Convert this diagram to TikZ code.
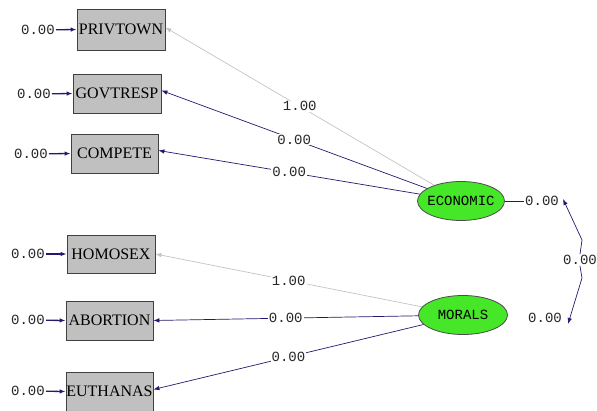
\documentclass[tikz,border=0pt]{standalone}
\usepackage{fontspec}
\setmainfont{Liberation Serif}
\setmonofont{Liberation Mono}
\usetikzlibrary{shapes.geometric,arrows.meta}
\definecolor{navyline}{RGB}{35,25,110}
\definecolor{grayline}{RGB}{195,195,195}
\definecolor{boxgray}{RGB}{192,192,192}
\definecolor{latgreen}{RGB}{70,230,40}
\begin{document}
\begin{tikzpicture}[x=1pt,y=-1pt,
  obs/.style={draw=black!75, line width=0.8pt, fill=boxgray, minimum width=88pt, minimum height=39pt, inner sep=0pt, font=\fontsize{16}{16}\selectfont},
  lat/.style={ellipse, draw=black!70, line width=0.8pt, fill=latgreen, minimum width=88pt, minimum height=39pt, inner ysep=0pt, inner xsep=-3pt, font=\ttfamily\fontsize{14}{14}\selectfont},
  num/.style={font=\ttfamily\fontsize{14}{14}\selectfont, inner sep=1pt, text=black!85},
  lab/.style={num, fill=white},
  tipa/.style={-{Latex[length=6pt,width=4.5pt]}},
  nav/.style={navyline, line width=0.7pt, tipa},
  gry/.style={grayline, line width=0.7pt, tipa},
  err/.style={navyline, line width=1.3pt, tipa}]
\useasboundingbox (0,0) rectangle (597,411);

% observed variables
\node[obs, minimum height=41pt] (priv) at (121,29.5) {PRIVTOWN};
\node[obs] (gov) at (117,93.5) {GOVTRESP};
\node[obs, minimum width=87pt] (comp) at (114.5,153.5) {COMPETE};
\node[obs, minimum height=38pt] (homo) at (111,254) {HOMOSEX};
\node[obs, minimum width=87pt] (abor) at (109.5,320.5) {ABORTION};
\node[obs, minimum width=87pt] (euth) at (109.5,391.5) {EUTHANAS};

% error variances
\node[num, anchor=east] (e1) at (56,30) {0.00};
\node[num, anchor=east] (e2) at (52,94) {0.00};
\node[num, anchor=east] (e3) at (49,154) {0.00};
\node[num, anchor=east] (e4) at (46,254) {0.00};
\node[num, anchor=east] (e5) at (46,320) {0.00};
\node[num, anchor=east] (e6) at (46,391) {0.00};
\draw[err] (e1) -- (priv.west);
\draw[err] (e2) -- (gov.west);
\draw[err] (e3) -- (comp.west);
\draw[err] (e4) -- (homo.west);
\draw[err] (e5) -- (abor.west);
\draw[err] (e6) -- (euth.west);

% latent variables
\node[lat, minimum width=87pt] (eco) at (461,201) {ECONOMIC};
\node[lat, minimum width=89pt] (mor) at (463,315) {MORALS};

% loadings
\draw[gry] (eco) -- node[lab, pos=0.5] {1.00} ([yshift=2pt]priv.east);
\draw[nav] (eco) -- node[lab, pos=0.5] {0.00} ([yshift=3pt]gov.east);
\draw[nav] (eco) -- node[lab, pos=0.5] {0.00} ([yshift=3pt]comp.east);
\draw[gry] (mor) -- node[lab, pos=0.5] {1.00} (homo.east);
\draw[nav] (mor) -- node[lab, pos=0.5] {0.00} (abor.east);
\draw[nav] (mor) -- node[lab, pos=0.5] {0.00} ([yshift=2pt]euth.east);

% variances and covariance
\node[num] (ev) at (542,201) {0.00};
\node[num] (mv) at (545,318) {0.00};
\node[num] (cv) at (580,260) {0.00};
\draw[navyline, line width=0.7pt] (eco.east) -- (ev.west);
\draw[nav] (cv.north) -- (582,240) -- ([xshift=3pt,yshift=2pt]ev.east);
\draw[nav] (cv.south) -- (582,278) -- ([xshift=5pt,yshift=-6pt]mv.east);
\end{tikzpicture}
\end{document}
